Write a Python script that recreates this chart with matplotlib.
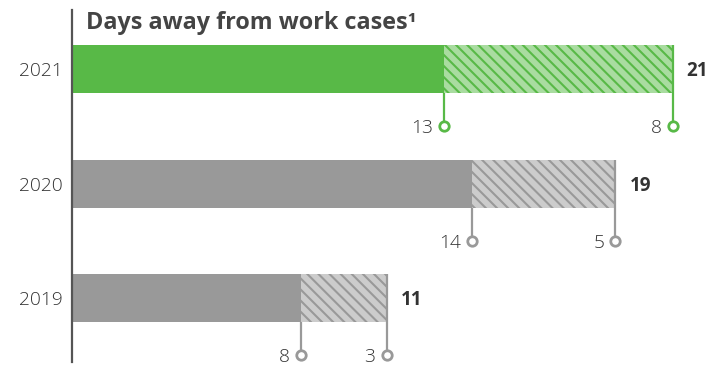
import matplotlib
matplotlib.use("Agg")
import matplotlib.pyplot as plt

years = ["2021", "2020", "2019"]
first_part = [13, 14, 8]
second_part = [8, 5, 3]
totals = [21, 19, 11]

solid_colors = ["#58b947", "#999999", "#999999"]
light_colors = ["#a9dca0", "#cccccc", "#cccccc"]
line_colors = ["#58b947", "#999999", "#999999"]

plt.rcParams['font.family'] = ['Open Sans', 'DejaVu Sans']
plt.rcParams['hatch.linewidth'] = 1.5

W, H = 710, 367
fig = plt.figure(figsize=(W / 100, H / 100), dpi=100)
ax = fig.add_axes([72 / W, 5 / H, 638 / W, 352 / H])

px_per_unit = 28.6
cat_px = 114.5
ax.set_xlim(0, 638 / px_per_unit)
ax.set_ylim(2 + 64 / cat_px, -59 / cat_px)

ypos = list(range(len(years)))
bh = 48 / cat_px
ax.barh(ypos, first_part, height=bh, color=solid_colors, linewidth=0, zorder=2)
for i in ypos:
    ax.barh(i, second_part[i], left=first_part[i], height=bh,
            facecolor=light_colors[i], edgecolor=line_colors[i],
            linewidth=0, hatch='\\\\\\', zorder=2)

circ_off = 0.5
for i in ypos:
    c = line_colors[i]
    x1 = first_part[i]
    x2 = first_part[i] + second_part[i]
    ax.plot([x1, x1], [i + bh / 2, i + circ_off], color=c, lw=1.6, zorder=3,
            solid_capstyle='butt')
    ax.plot([x2, x2], [i - bh / 2, i + circ_off], color=c, lw=1.6, zorder=3,
            solid_capstyle='butt')
    ax.plot([x1, x2], [i + circ_off, i + circ_off], ls='none', marker='o',
            ms=6.8, mew=2.0, mfc='white', mec=c, zorder=4)
    ax.annotate(str(first_part[i]), (x1, i + circ_off), xytext=(-11, -2),
                textcoords='offset pixels', ha='right', va='center',
                fontsize=13.8, color='#333333', fontweight='light')
    ax.annotate(str(second_part[i]), (x2, i + circ_off), xytext=(-11, -2),
                textcoords='offset pixels', ha='right', va='center',
                fontsize=13.8, color='#333333', fontweight='light')
    ax.annotate(str(totals[i]), (x2, i), xytext=(14, -2),
                textcoords='offset pixels', ha='left', va='center',
                fontsize=13.5, color='#333333', fontweight='bold')

for s in ['top', 'right', 'bottom']:
    ax.spines[s].set_visible(False)
ax.spines['left'].set_color('#555555')
ax.spines['left'].set_linewidth(1.6)
ax.set_xticks([])
ax.set_yticks(ypos, labels=years)
ax.tick_params(axis='y', length=0, pad=7, labelsize=13.8, labelcolor='#333333')
for lab in ax.get_yticklabels():
    lab.set_fontweight('light')

fig.text(86 / W, 1 - 29 / H, "Days away from work cases¹", ha='left',
         va='baseline', fontsize=16.8, fontweight='bold', color='#444444')

fig.savefig("out.png", dpi=100)
